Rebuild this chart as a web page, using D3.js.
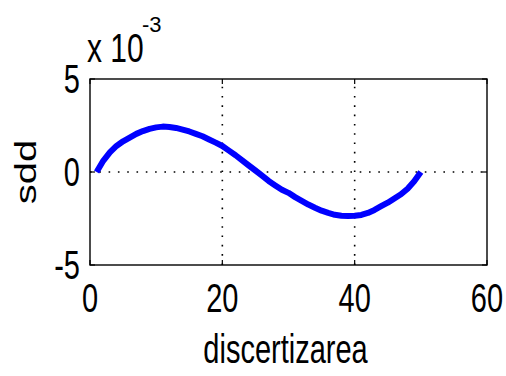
<!DOCTYPE html>
<html>
<head>
<style>
  body { margin: 0; background: #fff; overflow: hidden; }
  text { font-family: "Liberation Sans", Arial, sans-serif; fill: #000; }
</style>
<script src="https://d3js.org/d3.v7.min.js"></script>
</head>
<body>
<svg width="506" height="376"></svg>
<script>
// discretisation index and sdd values (x 10^-3)
var xs = [1,2,3,4,5,6,7,8,9,10,11,12,13,14,15,16,17,18,19,20,21,22,23,24,25,
          26,27,28,29,30,31,32,33,34,35,36,37,38,39,40,41,42,43,44,45,46,47,48,49,50];
var sdd = [0,0.6,1.05,1.4,1.65,1.85,2.05,2.2,2.32,2.4,2.44,2.42,2.37,2.28,2.18,2.05,1.92,1.75,1.58,1.4,
           1.15,0.9,0.62,0.35,0.08,-0.2,-0.48,-0.72,-0.95,-1.12,-1.35,-1.55,-1.75,-1.92,-2.08,-2.2,-2.3,-2.35,-2.36,-2.35,
           -2.31,-2.2,-2.04,-1.84,-1.65,-1.42,-1.2,-0.9,-0.5,0];
var xTicks = [0, 20, 40, 60];
var yTicks = [-5, 0, 5];

var svg = d3.select("svg");
var pL = 90, pR = 487, pT = 79, pB = 265;
var sy = 1.38; // text is stretched vertically in the original

var x = d3.scaleLinear().domain([0, 60]).range([pL, pR]);
var y = d3.scaleLinear().domain([-5, 5]).range([pB, pT]);

// grid
var grid = svg.append("g").attr("stroke", "#000").attr("stroke-width", 1.6)
    .attr("stroke-dasharray", "1.6,7.7");
grid.selectAll(".gx").data(xTicks.slice(1, -1)).enter().append("line")
    .attr("x1", function (d) { return x(d); }).attr("x2", function (d) { return x(d); })
    .attr("y1", pB).attr("y2", pT);
grid.selectAll(".gy").data(yTicks.slice(1, -1)).enter().append("line")
    .attr("x1", pL).attr("x2", pR)
    .attr("y1", function (d) { return y(d); }).attr("y2", function (d) { return y(d); });

// ticks on all four sides
var tk = svg.append("g").attr("stroke", "#000").attr("stroke-width", 1.2);
xTicks.forEach(function (d) {
    tk.append("line").attr("x1", x(d)).attr("x2", x(d)).attr("y1", pB).attr("y2", pB - 5);
    tk.append("line").attr("x1", x(d)).attr("x2", x(d)).attr("y1", pT).attr("y2", pT + 5);
});
yTicks.forEach(function (d) {
    tk.append("line").attr("x1", pL).attr("x2", pL + 5).attr("y1", y(d)).attr("y2", y(d));
    tk.append("line").attr("x1", pR).attr("x2", pR - 5).attr("y1", y(d)).attr("y2", y(d));
});

// data line
var line = d3.line()
    .x(function (d, i) { return x(xs[i]); })
    .y(function (d) { return y(d); });
svg.append("path").datum(sdd)
    .attr("d", line)
    .attr("fill", "none")
    .attr("stroke", "#0000ff")
    .attr("stroke-width", 6)
    .attr("stroke-linejoin", "round");

// box
svg.append("rect").attr("x", pL).attr("y", pT)
    .attr("width", pR - pL).attr("height", pB - pT)
    .attr("fill", "none").attr("stroke", "#000").attr("stroke-width", 1.4);

// tick labels
svg.selectAll(".xl").data(xTicks).enter().append("text")
    .attr("text-anchor", "middle")
    .attr("font-size", 29)
    .attr("transform", function (d) { return "translate(" + x(d) + ",312) scale(1," + sy + ")"; })
    .text(function (d) { return d; });
svg.selectAll(".yl").data(yTicks).enter().append("text")
    .attr("text-anchor", "end")
    .attr("font-size", 29)
    .attr("transform", function (d) { return "translate(80," + (y(d) + 14) + ") scale(1," + sy + ")"; })
    .text(function (d) { return d; });

// axis labels
svg.append("text")
    .attr("text-anchor", "middle")
    .attr("font-size", 29)
    .attr("transform", "translate(" + ((pL + pR) / 2 - 3) + ",363) scale(1," + sy + ")")
    .text("discertizarea");
svg.append("text")
    .attr("text-anchor", "middle")
    .attr("font-size", 29)
    .attr("transform", "translate(36," + ((pT + pB) / 2) + ") scale(1," + sy + ") rotate(-90)")
    .text("sdd");

// exponent
svg.append("text")
    .attr("font-size", 30)
    .attr("transform", "translate(87,62) scale(1," + sy + ")")
    .text("x 10");
svg.append("text")
    .attr("font-size", 22)
    .attr("transform", "translate(142,32)")
    .text("-3");
</script>
</body>
</html>
